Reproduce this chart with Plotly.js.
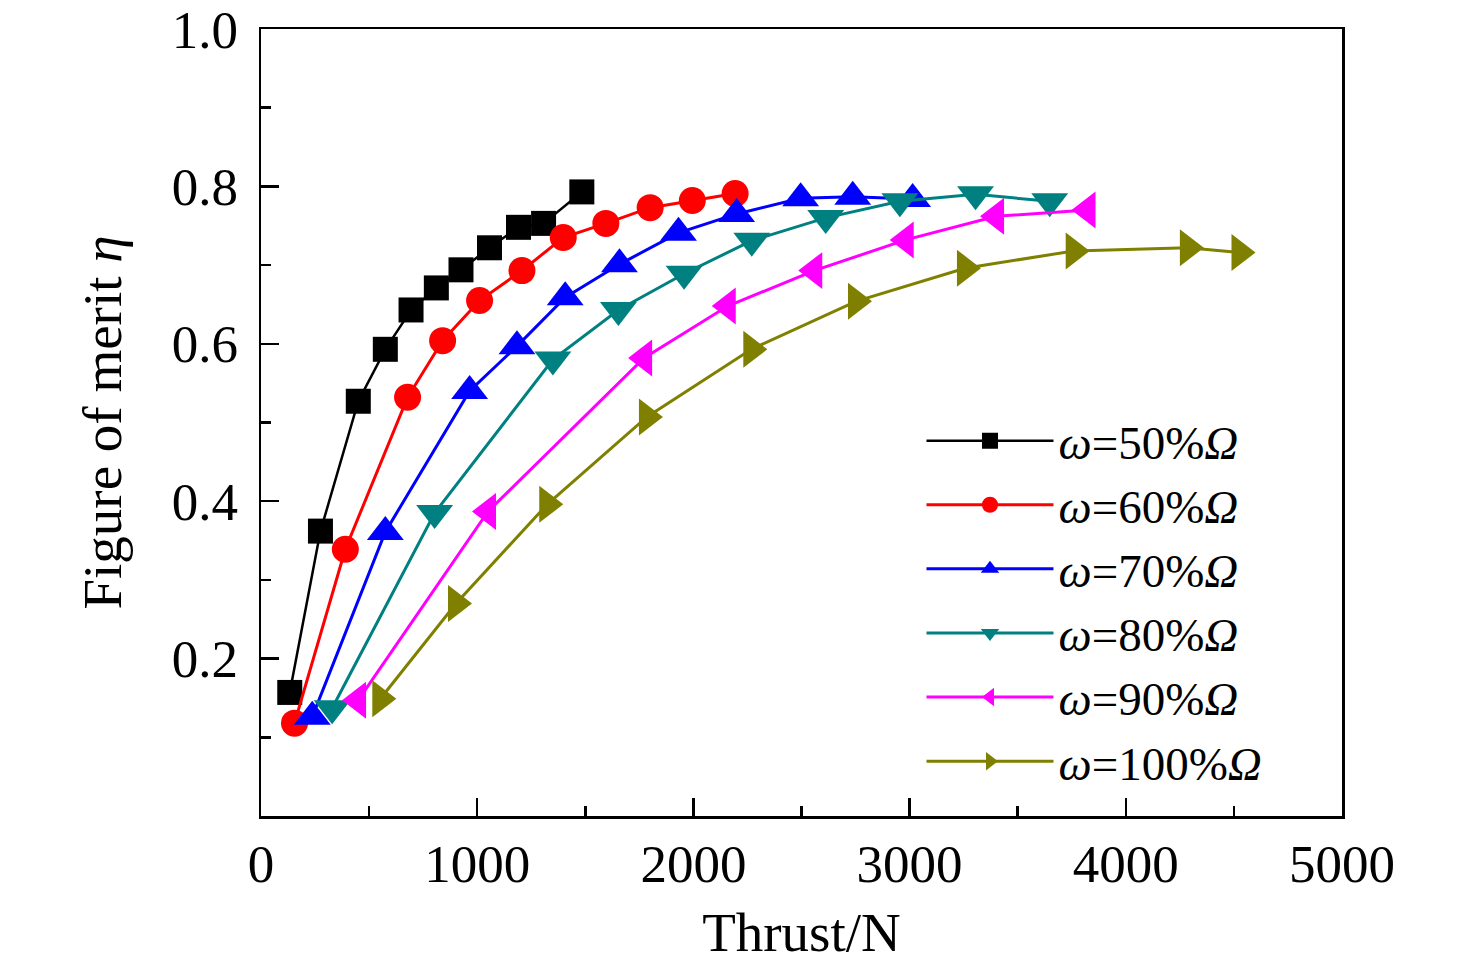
<!DOCTYPE html>
<html>
<head>
<meta charset="utf-8">
<script src="https://cdn.plot.ly/plotly-3.0.1.min.js"></script>
<style>
  body { margin: 0; background: #fff; }
  #chart { width: 1476px; height: 973px; }
</style>
</head>
<body>
<div id="chart"></div>
<script>
// thrust (N) and figure of merit for each rotor speed
const thrust50 = [133, 275, 450, 575, 694, 811, 925, 1057, 1191, 1307, 1484]
const eta50 = [0.157, 0.362, 0.527, 0.593, 0.643, 0.671, 0.694, 0.722, 0.748, 0.753, 0.793]

const thrust60 = [155, 390, 678, 840, 1011, 1207, 1398, 1595, 1800, 1995, 2193]
const eta60 = [0.118, 0.339, 0.532, 0.604, 0.655, 0.693, 0.735, 0.753, 0.773, 0.782, 0.791]

const thrust70 = [237, 575, 965, 1184, 1407, 1658, 1931, 2200, 2496, 2737, 3014]
const eta70 = [0.126, 0.361, 0.540, 0.597, 0.659, 0.701, 0.741, 0.765, 0.785, 0.787, 0.784]

const thrust80 = [329, 803, 1350, 1653, 1957, 2270, 2612, 2955, 3305, 3648]
const eta80 = [0.137, 0.385, 0.580, 0.643, 0.689, 0.731, 0.760, 0.781, 0.790, 0.781]

const thrust90 = [449, 1050, 1772, 2159, 2559, 2982, 3400, 3823]
const eta90 = [0.147, 0.387, 0.582, 0.648, 0.693, 0.732, 0.762, 0.770]

const thrust100 = [552, 902, 1324, 1785, 2268, 2752, 3256, 3759, 4287, 4526]
const eta100 = [0.149, 0.270, 0.396, 0.507, 0.593, 0.654, 0.696, 0.718, 0.722, 0.716]

const names = ['50', '60', '70', '80', '90', '100']
const colors = ['#000000', '#ff0000', '#0000ff', '#008080', '#ff00ff', '#808000']
const symbols = ['square', 'circle', 'triangle-up', 'triangle-down', 'triangle-left', 'triangle-right']
const sizes = [25, 27, 32, 32, 32, 32]
const xs = [thrust50, thrust60, thrust70, thrust80, thrust90, thrust100]
const ys = [eta50, eta60, eta70, eta80, eta90, eta100]

const font = 'Liberation Serif, Times New Roman, serif'

let data = []
for (let i = 0; i < names.length; i++) {
    data.push({
        x: xs[i],
        y: ys[i],
        type: 'scatter',
        mode: 'lines+markers',
        name: '<i>ω</i>=' + names[i] + '%<i>Ω</i>',
        line: {color: colors[i], width: i == 0 ? 2.5 : 3},
        marker: {symbol: symbols[i], size: sizes[i], color: colors[i], line: {width: 0}}
    })
}

let layout = {
    width: 1476,
    height: 973,
    margin: {l: 261, r: 134, t: 29, b: 157},
    paper_bgcolor: '#fff',
    plot_bgcolor: '#fff',
    font: {family: font, size: 53, color: '#000'},
    showlegend: true,
    legend: {
        x: 0.611, y: 0.524, xanchor: 'left', yanchor: 'top',
        bgcolor: 'rgba(0,0,0,0)',
        font: {family: font, size: 47, color: '#000'},
        itemwidth: 127,
        tracegroupgap: 0
    },
    xaxis: {
        title: {text: 'Thrust/N', font: {family: font, size: 55}, standoff: 21},
        range: [0, 5000],
        dtick: 1000,
        tick0: 0,
        ticks: 'inside',
        ticklen: 18,
        tickwidth: 2.5,
        tickcolor: '#000',
        ticklabelstandoff: 0,
        minor: {dtick: 500, ticks: 'inside', ticklen: 10, tickwidth: 2.5, tickcolor: '#000'},
        showline: true,
        linecolor: '#000',
        linewidth: 2.5,
        mirror: true,
        showgrid: false,
        zeroline: false
    },
    yaxis: {
        title: {text: 'Figure of merit <i>η</i>', font: {family: font, size: 55}, standoff: 33},
        range: [0, 1.0],
        tickvals: [0.2, 0.4, 0.6, 0.8, 1.0],
        tickformat: '.1f',
        ticks: 'inside',
        ticklen: 18,
        tickwidth: 2.5,
        tickcolor: '#000',
        ticklabelstandoff: 10,
        minor: {dtick: 0.1, tick0: 0, ticks: 'inside', ticklen: 10, tickwidth: 2.5, tickcolor: '#000'},
        showline: true,
        linecolor: '#000',
        linewidth: 2.5,
        mirror: true,
        showgrid: false,
        zeroline: false
    }
}

Plotly.newPlot('chart', data, layout, {displayModeBar: false, staticPlot: true})
</script>
</body>
</html>
